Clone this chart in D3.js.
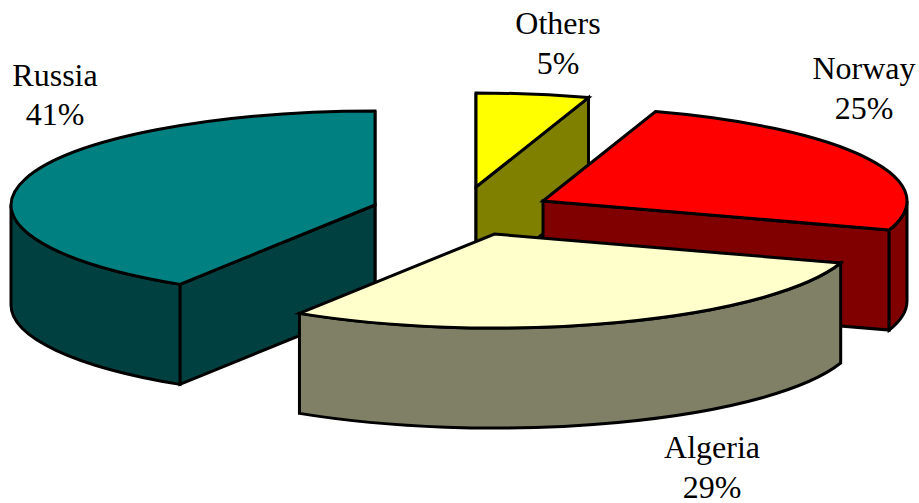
<!DOCTYPE html>
<html>
<head>
<meta charset="utf-8">
<script src="https://cdn.jsdelivr.net/npm/d3@7/dist/d3.min.js"></script>
<style>
  html, body { margin: 0; padding: 0; background: #fff; }
  svg { display: block; }
  text { font-family: "Liberation Serif", serif; font-size: 32px; fill: #000; text-anchor: middle; }
</style>
</head>
<body>
<svg id="chart" width="919" height="503"></svg>
<script>
// Supply shares, clockwise from twelve o'clock
const categories = ["Others", "Norway", "Algeria", "Russia"];
const shares = [5, 25, 29, 41];
const topColors = ["#ffff00", "#ff0000", "#ffffcc", "#008080"];
const wallColors = ["#808000", "#800000", "#808066", "#004040"];

// Pull-out position of each wedge's apex, and its label anchor
const apexX = [476, 543, 494.5, 375];
const apexY = [187, 201, 234, 205];
const labelX = [558, 864, 712, 55];
const labelY = [34, 79, 458, 85.5];

const rx = 364, ry = 94, depth = 100;
const lineGap = 39.5;

const pie = d3.pie().sort(null).value(d => d).startAngle(0).endAngle(2 * Math.PI);
const arcs = pie(shares);

const svg = d3.select("#chart");

// Tilted-disc projection: angle 0 points up, angles grow clockwise
const px = (cx, a) => cx + rx * Math.sin(a);
const py = (cy, a) => cy - ry * Math.cos(a);

function rimArc(cx, cy, a0, a1) {
  const large = Math.abs(a1 - a0) > Math.PI ? 1 : 0;
  const sweep = a1 > a0 ? 1 : 0;
  return `A${rx},${ry} 0 ${large} ${sweep} ${px(cx, a1)},${py(cy, a1)}`;
}

function topFace(cx, cy, d) {
  return `M${cx},${cy}L${px(cx, d.startAngle)},${py(cy, d.startAngle)}` +
    rimArc(cx, cy, d.startAngle, d.endAngle) + "Z";
}

// Outer wall: only the part of the rim that faces the viewer (lower half)
function outerWall(cx, cy, d) {
  const a0 = Math.max(d.startAngle, Math.PI / 2);
  const a1 = Math.min(d.endAngle, 3 * Math.PI / 2);
  if (a1 <= a0) return null;
  return `M${px(cx, a0)},${py(cy, a0)}` + rimArc(cx, cy, a0, a1) +
    `L${px(cx, a1)},${py(cy + depth, a1)}` + rimArc(cx, cy + depth, a1, a0) + "Z";
}

// Flat cut face running from the apex to the rim at the given angle
function cutFace(cx, cy, a) {
  return `M${cx},${cy}L${px(cx, a)},${py(cy, a)}` +
    `L${px(cx, a)},${py(cy + depth, a)}L${cx},${cy + depth}Z`;
}

// Back-to-front paint order
const paintOrder = [0, 1, 3, 2];

paintOrder.forEach(i => {
  const d = arcs[i], cx = apexX[i], cy = apexY[i];
  const g = svg.append("g").attr("class", "wedge")
    .attr("stroke", "#000").attr("stroke-width", 3).attr("stroke-linejoin", "miter");

  // A cut face shows only when it turns toward the viewer
  const cuts = [];
  if (Math.sin(d.startAngle) < -1e-6) cuts.push(d.startAngle);
  if (Math.sin(d.endAngle) > 1e-6) cuts.push(d.endAngle);

  // Cut at twelve o'clock is seen edge-on, as a single vertical line
  const edgeOn = [d.startAngle, d.endAngle].find(a => Math.abs(Math.sin(a)) < 1e-6);
  if (edgeOn !== undefined) {
    g.append("line")
      .attr("x1", cx).attr("y1", py(cy, edgeOn))
      .attr("x2", cx).attr("y2", cy + depth);
  }
  cuts.forEach(a => g.append("path").attr("d", cutFace(cx, cy, a)).attr("fill", wallColors[i]));

  const wall = outerWall(cx, cy, d);
  if (wall) g.append("path").attr("d", wall).attr("fill", wallColors[i]);
  g.append("path").attr("d", topFace(cx, cy, d)).attr("fill", topColors[i]);
});

// Two-line labels: name, then percentage
categories.forEach((name, i) => {
  svg.append("text").attr("x", labelX[i]).attr("y", labelY[i]).text(name);
  svg.append("text").attr("x", labelX[i]).attr("y", labelY[i] + lineGap)
    .text(d3.format(".0f")(shares[i]) + "%");
});
</script>
</body>
</html>
